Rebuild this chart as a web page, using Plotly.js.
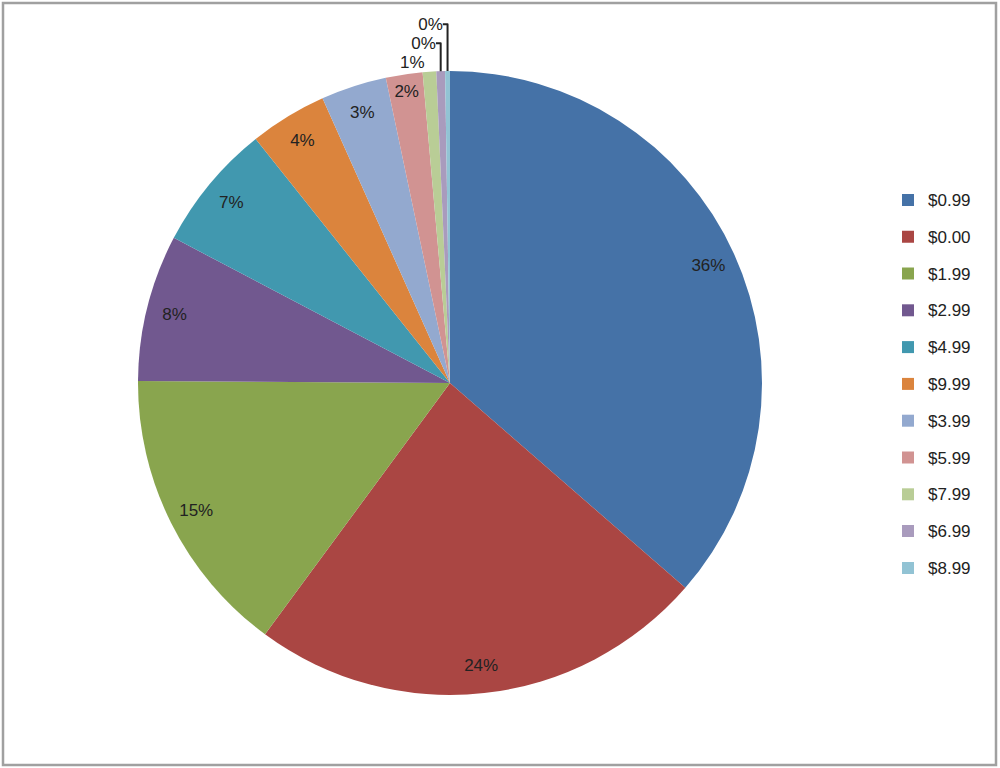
<!DOCTYPE html>
<html>
<head>
<meta charset="utf-8">
<script src="https://cdn.plot.ly/plotly-3.0.1.min.js"></script>
<style>html,body{margin:0;padding:0;background:#fff;}#chart{width:1000px;height:768px;}</style>
</head>
<body>
<div id="chart"></div>
<script>
const priceLabels = ['$0.99', '$0.00', '$1.99', '$2.99', '$4.99', '$9.99', '$3.99', '$5.99', '$7.99', '$6.99', '$8.99'];
const shareValues = [36.4, 23.7, 15.0, 7.6, 6.6, 4.0, 3.4, 1.9, 0.7, 0.45, 0.25];
const sliceColors = ['#4572A7', '#AA4643', '#89A54E', '#71588F', '#4198AF', '#DB843D', '#93A9CF', '#D19392', '#B9CD96', '#A99BBD', '#92C3D4'];

const FONT = 'Liberation Sans, Arial, sans-serif';
const dom = {x: [0.138, 0.762], y: [0.095, 0.9076]};
const legendLabels = priceLabels.map(l => '<span style="font-size:17px;baseline-shift:4px">' + l + '</span>');
const smallIdx = [8, 9, 10];

const basePie = {
  type: 'pie',
  labels: legendLabels,
  values: shareValues,
  sort: false,
  direction: 'clockwise',
  rotation: 0,
  domain: dom,
  marker: {colors: sliceColors, line: {width: 0}},
  texttemplate: '%{percent:.0%}',
  textposition: shareValues.map((v, i) => smallIdx.includes(i) ? 'outside' : 'none'),
  outsidetextfont: {family: FONT, size: 17, color: '#222'},
  hoverinfo: 'label+percent',
  showlegend: true
};

const labelRing = {
  type: 'pie',
  labels: legendLabels,
  values: shareValues,
  sort: false,
  direction: 'clockwise',
  rotation: 0,
  domain: dom,
  hole: 0.82,
  marker: {colors: shareValues.map(() => 'rgba(0,0,0,0)'), line: {width: 0}},
  texttemplate: '%{percent:.0%}',
  textposition: shareValues.map((v, i) => smallIdx.includes(i) ? 'none' : 'inside'),
  insidetextorientation: 'horizontal',
  insidetextfont: {family: FONT, size: 17, color: '#222'},
  hoverinfo: 'skip',
  showlegend: false
};

const layout = {
  width: 1000,
  height: 768,
  margin: {l: 0, r: 0, t: 0, b: 0},
  paper_bgcolor: '#ffffff',
  font: {family: FONT, size: 17, color: '#222'},
  showlegend: true,
  legend: {
    x: 0.888, xanchor: 'left',
    y: 0.5, yanchor: 'middle',
    font: {family: FONT, size: 26, color: '#222'},
    bgcolor: 'rgba(0,0,0,0)',
    borderwidth: 0
  },
  shapes: [{
    type: 'rect', xref: 'paper', yref: 'paper',
    x0: 0.003, x1: 0.996, y0: 0.004, y1: 0.996,
    line: {color: '#a0a0a0', width: 2.5},
    fillcolor: 'rgba(0,0,0,0)'
  }]
};

Plotly.newPlot('chart', [basePie, labelRing], layout, {displayModeBar: false, staticPlot: true});
</script>
</body>
</html>
